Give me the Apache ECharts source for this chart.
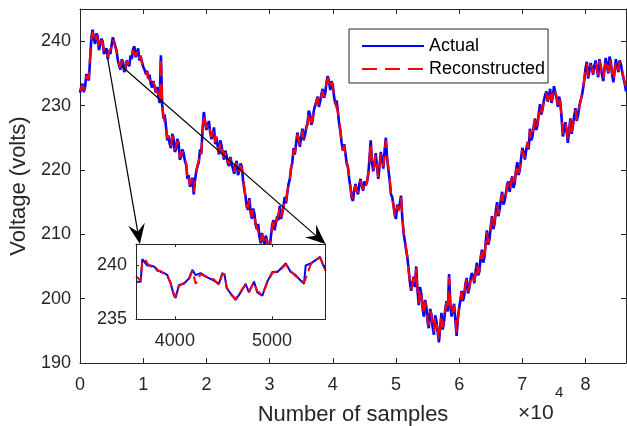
<!DOCTYPE html>
<html><head><meta charset="utf-8">
<script src="https://cdn.jsdelivr.net/npm/echarts@6/dist/echarts.min.js"></script>
<style>html,body{margin:0;padding:0;background:#fff}#c{width:627px;height:426px}</style>
</head><body><div id="c"></div>
<script>
// ---- data ----
const sampleStep = 200; // samples between stored points
const actual = [
232.0, 232.9, 233.4, 232.1, 232.8, 234.9, 234.6, 233.9, 237.2, 240.6, 241.8, 240.2, 239.6, 241.2, 240.8, 238.6, 238.9, 240.4, 239.9, 238.0,
238.3, 238.9, 237.2, 238.6, 238.0, 239.4, 240.6, 240.9, 239.2, 238.4, 237.0, 236.2, 235.6, 237.2, 236.8, 235.2, 235.7, 237.0, 236.6, 236.1,
237.8, 237.2, 238.8, 239.2, 237.5, 238.2, 238.9, 237.0, 237.6, 236.8, 236.0, 235.6, 235.0, 235.4, 234.2, 234.8, 233.4, 232.8, 233.8, 232.9,
232.0, 232.9, 231.6, 230.4, 237.8, 230.2, 228.0, 228.6, 226.8, 224.6, 225.2, 224.0, 223.4, 225.6, 225.0, 222.8, 223.2, 224.8, 224.2, 221.6,
222.0, 223.2, 222.6, 221.4, 220.8, 218.6, 219.2, 217.4, 217.8, 218.8, 216.2, 218.4, 219.8, 220.6, 221.2, 223.2, 222.6, 226.4, 229.0, 227.4,
226.2, 226.0, 227.6, 225.8, 224.8, 225.4, 226.6, 224.0, 225.0, 223.6, 222.4, 224.6, 223.8, 222.4, 221.6, 223.0, 222.2, 221.0, 220.6, 222.0,
221.0, 220.2, 219.4, 220.8, 221.4, 219.2, 219.8, 221.0, 220.6, 218.4, 217.0, 215.8, 214.2, 213.8, 215.6, 213.4, 212.4, 214.0, 213.2, 211.4,
210.8, 211.6, 209.6, 208.6, 210.2, 209.2, 208.4, 209.8, 209.0, 208.2, 207.8, 209.6, 211.4, 212.2, 210.6, 211.8, 212.8, 212.2, 214.4, 212.4,
213.2, 214.4, 215.8, 214.8, 216.4, 217.8, 218.6, 220.2, 221.2, 223.4, 222.4, 224.2, 225.8, 224.6, 223.6, 225.2, 226.4, 224.6, 225.4, 226.6,
227.2, 229.2, 228.6, 227.0, 227.6, 229.2, 230.0, 230.6, 231.4, 229.8, 230.6, 231.8, 232.6, 231.2, 231.8, 233.6, 234.6, 233.8, 232.4, 233.8,
233.2, 231.4, 230.2, 230.8, 229.2, 227.2, 226.0, 224.2, 223.0, 224.0, 222.6, 221.0, 220.4, 218.6, 217.2, 215.6, 215.2, 217.0, 217.8, 216.8,
216.2, 217.8, 218.6, 217.4, 216.8, 218.2, 217.6, 218.0, 219.2, 221.6, 224.6, 221.2, 219.8, 221.0, 222.6, 220.4, 218.6, 220.6, 222.8, 221.6,
220.2, 223.0, 225.0, 221.8, 220.0, 218.4, 216.2, 215.8, 214.6, 213.0, 212.4, 214.6, 213.8, 214.8, 216.0, 212.6, 210.2, 209.0, 207.6, 206.4,
204.6, 202.6, 201.2, 202.4, 203.4, 201.8, 205.0, 201.4, 199.0, 201.8, 200.8, 198.6, 197.2, 199.8, 198.8, 196.4, 195.4, 198.4, 197.6, 195.6,
194.4, 197.4, 196.6, 194.8, 193.2, 195.6, 197.8, 195.2, 196.4, 198.4, 199.6, 198.0, 203.8, 199.2, 197.2, 198.4, 199.2, 196.6, 194.2, 197.0,
198.6, 199.8, 201.2, 199.6, 200.4, 202.4, 203.2, 200.8, 201.6, 203.0, 204.0, 203.4, 202.4, 204.2, 205.6, 203.6, 204.2, 206.4, 207.6, 205.6,
206.4, 208.8, 210.6, 208.4, 209.2, 211.2, 212.8, 210.8, 211.6, 213.6, 215.0, 212.8, 213.8, 215.4, 216.6, 214.6, 215.2, 216.4, 217.8, 218.2,
216.6, 218.2, 219.0, 217.2, 218.0, 220.0, 221.2, 219.2, 220.0, 221.8, 223.4, 222.8, 221.6, 223.0, 224.2, 223.2, 226.4, 224.6, 225.2, 226.8,
228.0, 226.2, 227.0, 228.8, 230.2, 228.6, 229.4, 230.8, 231.6, 232.2, 230.6, 231.4, 232.6, 230.4, 231.2, 233.0, 232.8, 231.2, 229.8, 231.4,
230.6, 228.2, 225.2, 226.0, 227.4, 226.2, 224.2, 226.2, 228.0, 225.6, 226.8, 228.4, 229.6, 227.6, 228.4, 229.8, 230.8, 231.4, 232.6, 234.0,
235.8, 236.8, 234.2, 235.4, 236.6, 235.8, 234.8, 236.2, 237.0, 235.6, 234.4, 237.2, 236.2, 234.8, 233.8, 235.8, 237.4, 236.0, 235.0, 237.6,
236.8, 234.8, 233.6, 235.4, 237.2, 236.0, 235.2, 237.0, 236.4, 235.2, 234.2, 233.4, 232.2
];
const reconstructed = [
232.3, 232.7, 233.2, 232.4, 233.0, 234.6, 234.4, 234.1, 237.5, 240.3, 241.5, 240.4, 239.8, 240.9, 240.5, 238.8, 239.1, 240.1, 239.7, 238.3,
238.5, 238.6, 237.5, 238.4, 238.2, 239.1, 240.3, 240.6, 239.0, 238.6, 237.3, 236.5, 235.9, 237.0, 236.6, 235.5, 236.0, 236.8, 236.4, 236.3,
237.6, 237.4, 238.6, 238.9, 237.7, 238.0, 238.6, 237.3, 237.8, 236.6, 236.2, 235.8, 234.8, 235.2, 234.4, 234.6, 233.6, 233.0, 233.6, 233.1,
232.3, 232.6, 231.8, 230.7, 237.5, 230.5, 228.3, 228.4, 226.6, 224.9, 225.4, 224.2, 223.7, 225.3, 224.8, 223.1, 223.5, 224.5, 224.0, 221.9,
222.3, 222.9, 222.4, 221.6, 221.0, 218.9, 219.4, 217.7, 218.0, 218.6, 216.6, 218.2, 219.6, 220.8, 221.4, 222.9, 222.4, 226.1, 228.7, 227.6,
226.5, 226.2, 227.3, 226.0, 225.1, 225.2, 226.3, 224.3, 225.2, 223.8, 222.7, 224.3, 223.5, 222.6, 221.9, 222.8, 222.0, 221.3, 220.9, 221.8,
220.8, 220.4, 219.7, 220.6, 221.1, 219.5, 220.0, 220.7, 220.3, 218.6, 217.3, 215.6, 214.5, 214.0, 215.3, 213.7, 212.7, 213.8, 213.0, 211.6,
211.0, 211.3, 209.8, 208.9, 210.0, 209.4, 208.7, 209.5, 208.8, 208.5, 208.1, 209.4, 211.1, 211.9, 210.9, 211.6, 212.5, 212.4, 214.1, 212.7,
213.5, 214.2, 215.5, 215.1, 216.7, 217.6, 218.4, 220.4, 220.9, 223.1, 222.7, 224.0, 225.5, 224.8, 223.9, 225.0, 226.1, 224.9, 225.6, 226.4,
227.0, 228.9, 228.4, 227.3, 227.9, 229.0, 229.8, 230.8, 231.2, 230.1, 230.8, 231.6, 232.3, 231.4, 232.0, 233.4, 234.3, 233.6, 232.6, 233.6,
233.0, 231.6, 230.4, 230.6, 229.0, 227.4, 226.3, 224.4, 223.2, 223.8, 222.4, 221.2, 220.6, 218.8, 217.5, 215.9, 215.5, 216.8, 217.6, 216.9,
216.5, 217.6, 218.3, 217.6, 217.0, 218.0, 217.4, 218.2, 219.5, 221.4, 224.2, 221.4, 220.1, 220.8, 222.3, 220.6, 218.9, 220.4, 222.5, 221.8,
220.5, 222.7, 224.6, 222.0, 220.3, 218.6, 216.5, 215.6, 214.4, 213.2, 212.7, 214.4, 213.6, 214.6, 215.7, 212.9, 210.5, 209.2, 207.9, 206.6,
204.3, 202.8, 201.5, 202.2, 203.2, 202.0, 204.7, 201.6, 199.3, 201.5, 200.6, 198.9, 197.5, 199.5, 198.6, 196.7, 195.8, 198.1, 197.4, 195.9,
194.8, 197.1, 196.4, 195.1, 193.6, 195.4, 197.5, 195.5, 196.7, 198.2, 199.4, 198.2, 203.4, 199.0, 197.5, 198.2, 199.0, 196.9, 194.7, 196.8,
198.4, 200.0, 201.0, 199.8, 200.7, 202.2, 203.0, 201.1, 201.9, 202.8, 203.8, 203.6, 202.7, 204.0, 205.3, 203.9, 204.5, 206.1, 207.3, 205.8,
206.7, 208.6, 210.3, 208.7, 209.5, 211.0, 212.5, 211.1, 211.9, 213.4, 214.7, 213.1, 214.0, 215.2, 216.3, 214.9, 215.5, 216.2, 217.5, 218.0,
216.9, 218.0, 218.8, 217.5, 218.3, 219.8, 220.9, 219.5, 220.3, 221.6, 223.1, 223.0, 221.9, 222.8, 224.4, 223.4, 226.1, 224.8, 225.5, 226.6,
227.8, 226.5, 227.3, 228.6, 229.9, 228.9, 229.6, 230.6, 231.3, 232.0, 230.8, 231.2, 232.3, 230.7, 231.5, 232.7, 232.5, 231.4, 230.1, 231.2,
230.3, 228.4, 225.6, 225.8, 227.2, 226.4, 224.6, 226.0, 227.8, 225.9, 227.0, 228.2, 229.3, 227.8, 228.6, 229.6, 230.6, 231.6, 232.4, 234.2,
235.5, 236.5, 234.5, 235.2, 236.3, 235.9, 235.0, 236.0, 236.7, 235.8, 234.7, 236.9, 236.0, 235.0, 234.1, 235.6, 237.1, 236.1, 235.2, 237.3,
236.5, 235.0, 233.9, 235.2, 236.9, 236.1, 235.4, 236.8, 236.2, 235.4, 234.5, 233.6, 232.5
];
const insetX = [3600, 3648, 3665, 3690, 3717, 3750, 3785, 3820, 3854, 3890, 3923, 3957, 3991, 4008, 4042, 4094, 4145, 4180, 4214, 4265, 4334, 4403, 4454, 4488, 4512, 4533, 4574, 4625, 4677, 4728, 4762, 4814, 4848, 4900, 4951, 5003, 5055, 5089, 5140, 5192, 5243, 5295, 5329, 5346, 5398, 5449, 5494, 5518, 5550];
const insetActual = [238.5, 238.5, 240.6, 240.3, 240.0, 240.0, 239.9, 239.6, 239.4, 239.3, 239.1, 238.3, 237.2, 237.0, 238.2, 238.3, 238.8, 239.6, 239.1, 239.3, 238.9, 238.6, 238.3, 239.3, 239.1, 237.9, 237.4, 236.8, 237.5, 238.3, 237.5, 238.5, 237.5, 237.2, 238.5, 239.4, 239.4, 239.7, 240.2, 239.4, 239.1, 238.6, 238.3, 240.0, 240.2, 240.5, 240.8, 240.2, 239.6];
const insetRecon = [239.0, 238.6, 240.4, 240.6, 240.2, 239.9, 239.9, 239.5, 239.5, 239.2, 239.0, 238.4, 237.3, 237.1, 238.1, 238.4, 238.7, 239.5, 238.3, 239.2, 238.9, 238.7, 238.2, 239.2, 239.2, 238.0, 237.3, 236.9, 237.6, 238.2, 237.6, 238.4, 237.6, 237.3, 238.4, 239.3, 239.5, 239.6, 240.1, 239.5, 239.0, 238.7, 238.4, 238.8, 240.1, 240.6, 240.7, 240.3, 239.5];
const mainXTicks = [0, 10000, 20000, 30000, 40000, 50000, 60000, 70000, 80000];
const mainYTicks = [190, 200, 210, 220, 230, 240];
const insetXTicks = [4000, 5000];
const insetYTicks = [235, 240];
const seriesNames = ['Actual', 'Reconstructed'];
const xLabel = 'Number of samples';
const yLabel = 'Voltage (volts)';
// arrows: [from (main axes), to (inset axes)]
const arrows = [
  [[4380, 237.3], [3640, 242]],
  [[6600, 236.1], [5550, 242]]
];

// ---- chart ----
const AX = '#262626';
const FONT = '"Liberation Sans", Arial, Helvetica, sans-serif';
const chart = echarts.init(document.getElementById('c'), null, {renderer: 'canvas'});

function xAx(grid, pos, min, max, ticks, showLabel, z, tickLen, margin, fmt, extra) {
  return Object.assign({
    type: 'value', gridIndex: grid, position: pos, min: min, max: max, z: z,
    axisLine: {show: true, onZero: false, lineStyle: {color: AX, width: 1}},
    axisTick: {show: true, inside: true, length: tickLen, customValues: ticks, lineStyle: {color: AX, width: 1}},
    axisLabel: {show: showLabel, customValues: ticks, fontSize: 18, color: AX, margin: margin, fontFamily: FONT, formatter: fmt},
    splitLine: {show: false}
  }, extra || {});
}
function yAx(grid, pos, min, max, ticks, showLabel, z, tickLen, extra) {
  return Object.assign({
    type: 'value', gridIndex: grid, position: pos, min: min, max: max, z: z,
    axisLine: {show: true, onZero: false, lineStyle: {color: AX, width: 1}},
    axisTick: {show: true, inside: true, length: tickLen, customValues: ticks, lineStyle: {color: AX, width: 1}},
    axisLabel: {show: showLabel, customValues: ticks, fontSize: 18, color: AX, margin: 9, fontFamily: FONT},
    splitLine: {show: false}
  }, extra || {});
}

const option = {
  animation: false,
  backgroundColor: '#fff',
  textStyle: {fontFamily: FONT},
  grid: [
    {left: 80, top: 9, right: 1, bottom: 63, containLabel: false, outerBoundsMode: 'none'},
    {left: 136, top: 244, width: 189.5, height: 75.3, containLabel: false, outerBoundsMode: 'none'}
  ],
  xAxis: [
    xAx(0, 'bottom', 0, 86400, mainXTicks, true, 0, 5, 13, v => String(v / 10000),
      {name: xLabel, nameLocation: 'middle', nameGap: 41, nameTextStyle: {fontSize: 22, color: AX, fontFamily: FONT}}),
    xAx(0, 'top', 0, 86400, mainXTicks, false, 0, 5, 13),
    xAx(1, 'bottom', 3600, 5550, insetXTicks, true, 12, 3, 13, v => String(v)),
    xAx(1, 'top', 3600, 5550, insetXTicks, false, 12, 3, 13)
  ],
  yAxis: [
    yAx(0, 'left', 190, 245, mainYTicks, true, 0, 5,
      {name: yLabel, nameLocation: 'middle', nameRotate: 90, nameGap: 46, nameTextStyle: {fontSize: 22, color: AX, fontFamily: FONT}}),
    yAx(0, 'right', 190, 245, mainYTicks, false, 0, 5),
    yAx(1, 'left', 235, 242, insetYTicks, true, 12, 3),
    yAx(1, 'right', 235, 242, insetYTicks, false, 12, 3)
  ],
  legend: {
    data: seriesNames, orient: 'vertical', left: 349, top: 29,
    padding: [7, 3, 4, 12], itemGap: 3, itemWidth: 62, itemHeight: 14,
    backgroundColor: '#fff', borderColor: AX, borderWidth: 1, borderRadius: 0,
    itemStyle: {opacity: 0},
    lineStyle: {width: 2},
    textStyle: {fontSize: 18, color: '#000', lineHeight: 20, fontFamily: FONT},
    selectedMode: false, z: 20
  },
  series: [
    {name: seriesNames[0], type: 'line', xAxisIndex: 0, yAxisIndex: 0, symbol: 'none', z: 2,
     data: actual.map((v, i) => [i * sampleStep, v]),
     lineStyle: {color: '#0000ff', width: 2.6}, itemStyle: {color: '#0000ff'}},
    {name: seriesNames[1], type: 'line', xAxisIndex: 0, yAxisIndex: 0, symbol: 'none', z: 3,
     data: reconstructed.map((v, i) => [i * sampleStep, v]),
     lineStyle: {color: '#ff0000', width: 2.2, type: [15, 8]}, itemStyle: {color: '#ff0000'}},
    {name: seriesNames[0], type: 'line', xAxisIndex: 2, yAxisIndex: 2, symbol: 'none', z: 11,
     data: insetX.map((x, i) => [x, insetActual[i]]),
     lineStyle: {color: '#0000ff', width: 2}, itemStyle: {color: '#0000ff'}},
    {name: seriesNames[1], type: 'line', xAxisIndex: 2, yAxisIndex: 2, symbol: 'none', z: 11,
     data: insetX.map((x, i) => [x, insetRecon[i]]),
     lineStyle: {color: '#ff0000', width: 2, type: [10, 5]}, itemStyle: {color: '#ff0000'}}
  ]
};
chart.setOption(option);

// graphics: inset background, arrows, x10^4
const gfx = [];
gfx.push({type: 'rect', z: 10, silent: true,
  shape: {x: 136, y: 244, width: 189.5, height: 75.3}, style: {fill: '#fff'}});
arrows.forEach((a) => {
  const p0 = chart.convertToPixel({gridIndex: 0}, a[0]);
  const p1 = chart.convertToPixel({gridIndex: 1}, a[1]);
  const dx = p1[0] - p0[0], dy = p1[1] - p0[1];
  const len = Math.hypot(dx, dy);
  const ux = dx / len, uy = dy / len, nx = -uy, ny = ux;
  const L = 20, W = 8.5;
  const bx = p1[0] - L * ux, by = p1[1] - L * uy;
  const mx = p1[0] - 0.62 * L * ux, my = p1[1] - 0.62 * L * uy;
  gfx.push({type: 'line', z: 9, silent: true,
    shape: {x1: p0[0], y1: p0[1], x2: mx, y2: my}, style: {stroke: '#000', lineWidth: 1.2}});
  gfx.push({type: 'polygon', z: 9, silent: true,
    shape: {points: [[p1[0], p1[1]], [bx + W * nx, by + W * ny], [mx, my], [bx - W * nx, by - W * ny]]},
    style: {fill: '#000'}});
});
gfx.push({type: 'text', z: 20, x: 518, y: 413, silent: true,
  style: {text: '\u00d710', fontSize: 21, fill: AX, font: '21px ' + FONT, verticalAlign: 'middle', align: 'left'}});
gfx.push({type: 'text', z: 20, x: 555, y: 392.5, silent: true,
  style: {text: '4', fontSize: 15, fill: AX, font: '15px ' + FONT, verticalAlign: 'middle', align: 'left'}});
chart.setOption({graphic: {elements: gfx}});
</script>
</body></html>
